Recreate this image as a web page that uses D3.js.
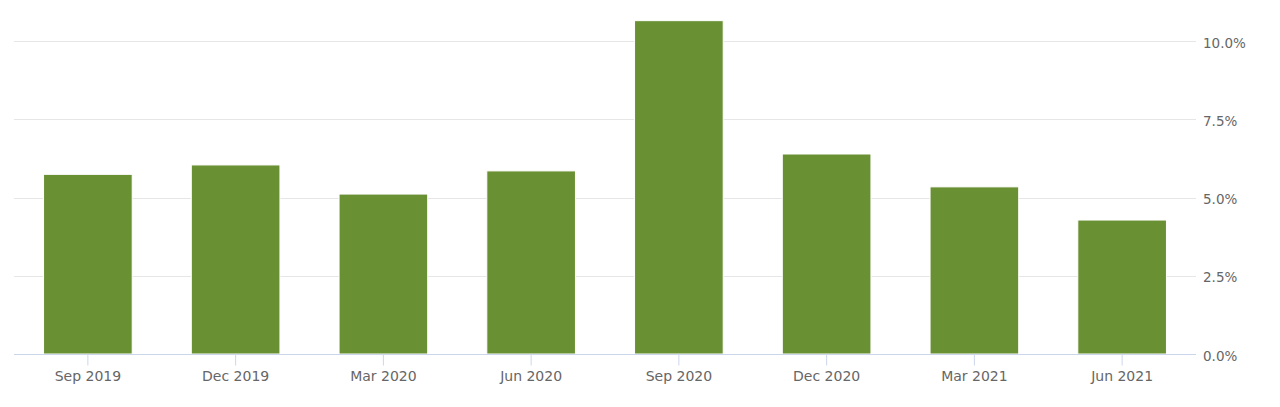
<!DOCTYPE html>
<html><head><meta charset="utf-8">
<script src="https://cdn.jsdelivr.net/npm/d3@7"></script>
<style>body{margin:0;background:#fff;}svg{display:block;} svg text{font-family:"DejaVu Sans",Verdana,sans-serif;}</style>
</head><body><svg id="c" width="1280" height="407"></svg>
<script>
const categories = ["Sep 2019","Dec 2019","Mar 2020","Jun 2020","Sep 2020","Dec 2020","Mar 2021","Jun 2021"];
const values = [5.74, 6.04, 5.11, 5.85, 10.65, 6.39, 5.34, 4.28];
const yTicks = [0, 2.5, 5, 7.5, 10];

const svg = d3.select("#c");
const pL = 14, pR = 1196, pT = 41, pB = 354;
const x = d3.scaleBand().domain(categories).range([pL, pR]).paddingInner(0.4).paddingOuter(0.2);
const y = d3.scaleLinear().domain([0, 10]).range([pB, pT]);

// gridlines
svg.append("g").selectAll("line").data(yTicks.filter(d=>d>0)).join("line")
  .attr("x1", pL).attr("x2", pR)
  .attr("y1", d=>Math.round(y(d))+0.5).attr("y2", d=>Math.round(y(d))+0.5)
  .attr("stroke", "#e6e6e6").attr("stroke-width", 1);

// bars
svg.append("g").selectAll("rect").data(values).join("rect")
  .attr("x", (d,i)=>x(categories[i]))
  .attr("width", x.bandwidth())
  .attr("y", d=>y(d))
  .attr("height", d=>pB - y(d))
  .attr("fill", "#6a9034")
  .attr("stroke", "#ffffff").attr("stroke-width", 1);

// x axis
const xa = svg.append("g").attr("transform", `translate(0,${pB+0.5})`)
  .call(d3.axisBottom(x).tickSize(11).tickPadding(4));
xa.attr("font-family", null);
xa.select(".domain").attr("stroke", "#ccd6eb").attr("d", `M${pL},0H${pR}`);
xa.selectAll(".tick line").attr("stroke", "#ccd6eb");
xa.selectAll(".tick text").attr("fill", "#666666").attr("font-size", "14px").attr("dy", "0.8em");

// y axis right
const ya = svg.append("g").attr("transform", `translate(${pR},0)`)
  .call(d3.axisRight(y).tickValues(yTicks).tickSize(0).tickPadding(7).tickFormat(d=>d.toFixed(1)+"%"));
ya.attr("font-family", null);
ya.select(".domain").remove();
ya.selectAll(".tick text").attr("fill", "#666666").attr("font-size", "13.5px").attr("dy", "0.45em");
</script></body></html>
